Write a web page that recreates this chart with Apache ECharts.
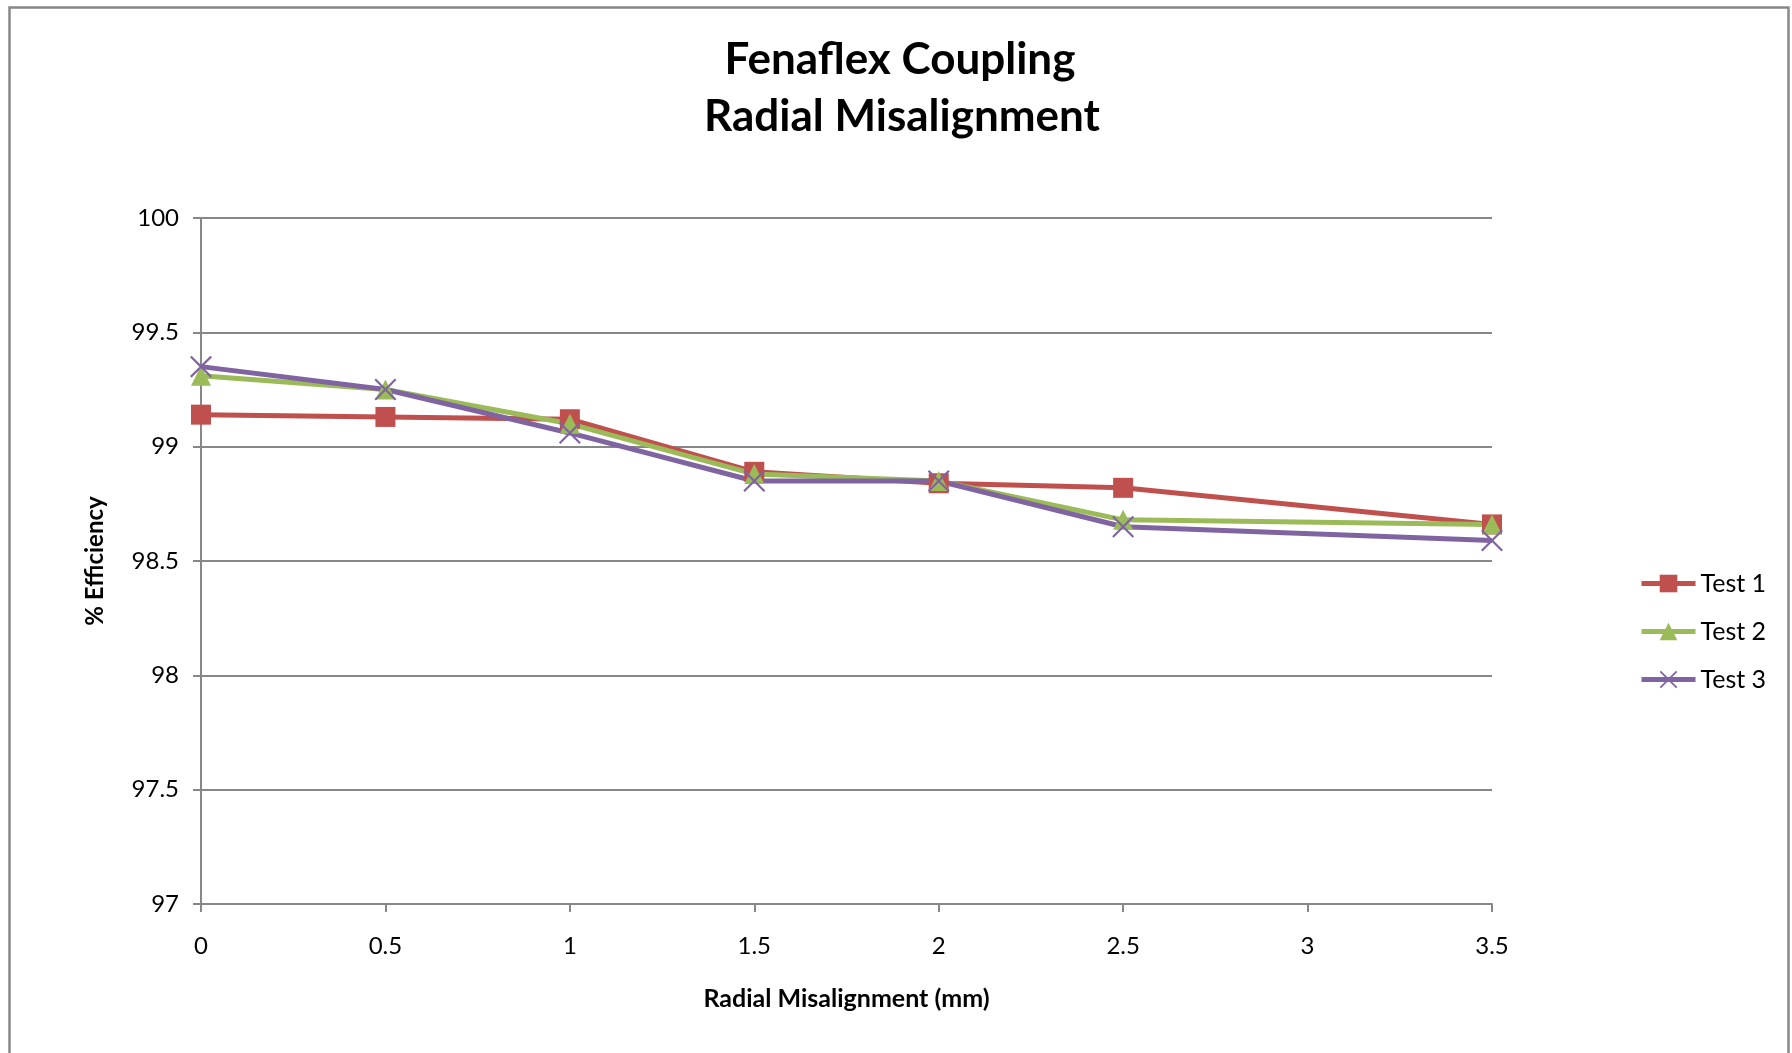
<!DOCTYPE html>
<html>
<head>
<meta charset="utf-8">
<title>Fenaflex Coupling - Radial Misalignment</title>
<script src="https://cdn.jsdelivr.net/npm/echarts@6/dist/echarts.min.js"></script>
<style>
  html, body { margin: 0; padding: 0; background: #ffffff; }
  #chart { width: 1792px; height: 1053px; }
</style>
</head>
<body>
<div id="chart"></div>
<script>
// Radial misalignment settings (mm)
const misalignment = [0, 0.5, 1, 1.5, 2, 2.5, 3.5];

// Measured efficiency (%) for each test run
const test1 = [99.14, 99.13, 99.12, 98.89, 98.84, 98.82, 98.66];
const test2 = [99.31, 99.25, 99.10, 98.88, 98.85, 98.68, 98.66];
const test3 = [99.35, 99.25, 99.06, 98.85, 98.85, 98.65, 98.59];

const seriesNames = ['Test 1', 'Test 2', 'Test 3'];
const titleLines = ['Fenaflex Coupling', 'Radial Misalignment'];

const FONT = 'Lato, "Noto Sans", sans-serif';
const GRID_GRAY = '#878787';
const colors = ['#C0504D', '#9BBB59', '#8064A2'];

// thin filled "x" marker
const crossSymbol = 'path://M0,7 L7,0 L50,43 L93,0 L100,7 L57,50 L100,93 L93,100 L50,57 L7,100 L0,93 L43,50 Z';

function pairs(xs, ys) {
  return xs.map((x, i) => [x, ys[i]]);
}

const chart = echarts.init(document.getElementById('chart'), null, { renderer: 'canvas' });

function lineSeries(name, values, color, symbol, size) {
  return {
    name: name,
    type: 'line',
    data: pairs(misalignment, values),
    symbol: symbol,
    symbolSize: size,
    showAllSymbol: true,
    lineStyle: { color: color, width: 5 },
    itemStyle: { color: color, borderColor: color, borderWidth: 0 },
    emphasis: { disabled: true },
    z: 2
  };
}

chart.setOption({
  animation: false,
  backgroundColor: '#ffffff',
  color: colors,
  graphic: [
    {
      type: 'rect',
      shape: { x: 9.5, y: 7.5, width: 1779, height: 1100 },
      style: { fill: 'none', stroke: '#888888', lineWidth: 2.5 },
      silent: true
    },
    {
      type: 'text',
      style: {
        text: titleLines[0], x: 900, y: 60,
        align: 'center', verticalAlign: 'middle',
        textAlign: 'center', textVerticalAlign: 'middle',
        font: 'bold 44px ' + FONT, fill: '#000000'
      }
    },
    {
      type: 'text',
      style: {
        text: titleLines[1], x: 902, y: 117,
        align: 'center', verticalAlign: 'middle',
        textAlign: 'center', textVerticalAlign: 'middle',
        font: 'bold 44px ' + FONT, fill: '#000000'
      }
    }
  ],
  grid: { left: 201, right: 300, top: 218, bottom: 149, containLabel: false },
  legend: {
    orient: 'vertical',
    left: 1634,
    top: 566,
    itemWidth: 54,
    itemHeight: 22,
    itemGap: 23,
    data: seriesNames,
    lineStyle: { width: 5 },
    textStyle: { fontFamily: FONT, fontSize: 25, color: '#000000', lineHeight: 22 }
  },
  xAxis: {
    type: 'value',
    min: 0,
    max: 3.5,
    interval: 0.5,
    name: 'Radial Misalignment (mm)',
    nameLocation: 'middle',
    nameGap: 82,
    nameTextStyle: { fontFamily: FONT, fontSize: 25, fontWeight: 'bold', color: '#000000', verticalAlign: 'top' },
    axisLine: { show: true, lineStyle: { color: GRID_GRAY, width: 2 } },
    axisTick: { show: true, inside: false, length: 8, lineStyle: { color: GRID_GRAY, width: 2 } },
    axisLabel: { fontFamily: FONT, fontSize: 24, color: '#000000', margin: 30 },
    splitLine: { show: false }
  },
  yAxis: {
    type: 'value',
    min: 97,
    max: 100,
    interval: 0.5,
    name: '% Efficiency',
    nameLocation: 'middle',
    nameGap: 94,
    nameRotate: 90,
    nameTextStyle: { fontFamily: FONT, fontSize: 24, fontWeight: 'bold', color: '#000000' },
    axisLine: { show: true, lineStyle: { color: GRID_GRAY, width: 2 } },
    axisTick: { show: true, inside: false, length: 8, lineStyle: { color: GRID_GRAY, width: 2 } },
    axisLabel: { fontFamily: FONT, fontSize: 24, color: '#000000', margin: 22 },
    splitLine: { show: true, lineStyle: { color: GRID_GRAY, width: 2 } }
  },
  series: [
    lineSeries(seriesNames[0], test1, colors[0], 'rect', 20),
    lineSeries(seriesNames[1], test2, colors[1], 'triangle', 20),
    lineSeries(seriesNames[2], test3, colors[2], crossSymbol, 22)
  ]
});
</script>
</body>
</html>
